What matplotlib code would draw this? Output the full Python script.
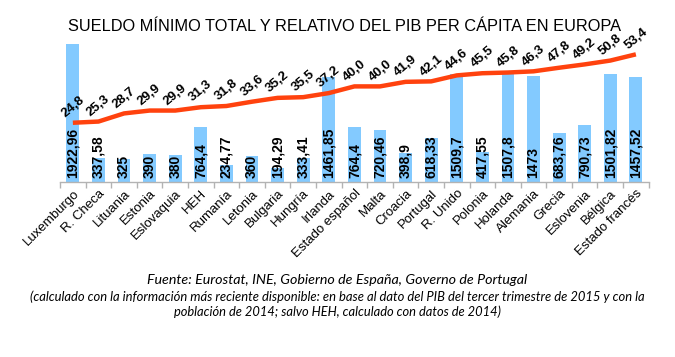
import matplotlib
matplotlib.use("Agg")
import matplotlib.pyplot as plt
import numpy as np

countries = ['Luxemburgo', 'R. Checa', 'Lituania', 'Estonia', 'Eslovaquia', 'HEH',
             'Rumanía', 'Letonia', 'Bulgaria', 'Hungría', 'Irlanda', 'Estado español',
             'Malta', 'Croacia', 'Portugal', 'R. Unido', 'Polonia', 'Holanda',
             'Alemania', 'Grecia', 'Eslovenia', 'Bélgica', 'Estado francés']
salario = [1922.96, 337.58, 325, 390, 380, 764.4, 234.77, 360, 194.29, 333.41,
           1461.85, 764.4, 720.46, 398.9, 618.33, 1509.7, 417.55, 1507.8, 1473,
           683.76, 790.73, 1501.82, 1457.52]
pib_pct = [24.8, 25.3, 28.7, 29.9, 29.9, 31.3, 31.8, 33.6, 35.2, 35.5, 37.2, 40.0,
           40.0, 41.9, 42.1, 44.6, 45.5, 45.8, 46.3, 47.8, 49.2, 50.8, 53.4]

title = 'SUELDO MÍNIMO TOTAL Y RELATIVO DEL PIB PER CÁPITA EN EUROPA'
foot_lines = ['Fuente: Eurostat, INE, Gobierno de España, Governo de Portugal',
              '(calculado con la información más reciente disponible: en base al dato del PIB '
              'del tercer trimestre de 2015 y con la',
              'población de 2014; salvo HEH, calculado con datos de 2014)']

plt.rcParams['font.family'] = ['Liberation Sans', 'DejaVu Sans']

fig = plt.figure(figsize=(6.75, 3.57), dpi=100)
ax = fig.add_axes([0.089, 0.49, 0.872, 0.402])
x = np.arange(len(countries))

bar_color = '#83caff'
line_color = '#ff420e'

ax.bar(x, salario, width=0.5, color=bar_color, zorder=2)
ax.set_ylim(0, 2000)
ax.set_xlim(-0.5, len(countries) - 0.5)

for xi, v in zip(x, salario):
    lbl = f"{v:g}".replace('.', ',')
    ax.annotate(lbl, (xi, 0), xytext=(0, 4), textcoords='offset pixels',
                rotation=90, ha='center', va='bottom', fontsize=10,
                fontweight='bold', color='black', zorder=5)

ax2 = ax.twinx()
ax2.set_ylim(0, 60)
ax2.plot(x, pib_pct, color=line_color, lw=3.2, solid_capstyle='butt', zorder=3)
for xi, v in zip(x, pib_pct):
    lbl = f"{v:.1f}".replace('.', ',')
    ax2.annotate(lbl, (xi, v), xytext=(0, 16), textcoords='offset pixels',
                 rotation=40, ha='center', va='center', fontsize=9.5,
                 fontweight='bold', color='black')

for a in (ax, ax2):
    for s in ['top', 'right', 'left']:
        a.spines[s].set_visible(False)
    a.set_yticks([])
ax2.spines['bottom'].set_visible(False)
ax.spines['bottom'].set_color('#b3b3b3')
ax.spines['bottom'].set_linewidth(1)

ax.set_xticks(x)
ax.set_xticklabels(countries, rotation=45, ha='right', va='top',
                   rotation_mode='anchor', fontsize=9.5)
ax.tick_params(axis='x', length=0, pad=4)
ax.set_xticks(np.arange(-0.5, len(countries) + 0.5, 1), minor=True)
ax.tick_params(axis='x', which='minor', length=4, color='#b3b3b3', width=1)

fig.text(0.51, 0.925, title, ha='center', va='center', fontsize=11.8)

# footnote lines, sized to the widths measured on the reference (pixels)
foot_y = [0.216, 0.168, 0.126]
foot_w = [379, 615, 326]
renderer = fig.canvas.get_renderer()
for txt, yy, ww in zip(foot_lines, foot_y, foot_w):
    t = fig.text(0.5, yy, txt, ha='center', va='center', fontsize=9,
                 family='Lato', style='italic')
    w = t.get_window_extent(renderer=renderer).width
    t.set_fontsize(9 * ww / w)

fig.savefig('out.png', dpi=100, facecolor='white')
